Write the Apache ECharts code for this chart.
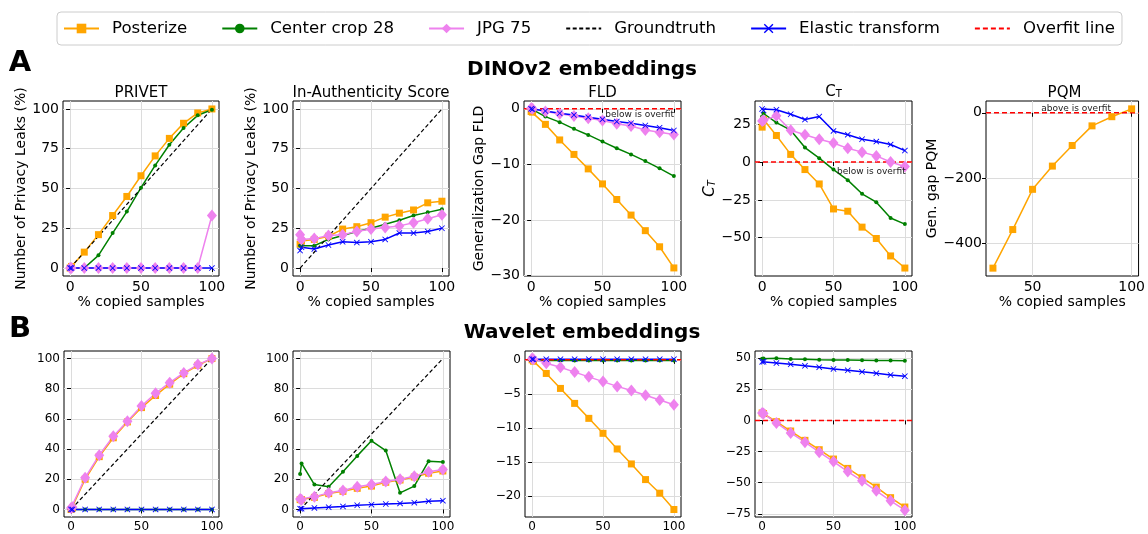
<!DOCTYPE html>
<html>
<head>
<meta charset="utf-8">
<script src="https://cdn.jsdelivr.net/npm/echarts@6.0.0/dist/echarts.min.js"></script>
<style>
  html, body { margin: 0; padding: 0; background: #fff; }
  #chart { width: 1148px; height: 534px; }
</style>
</head>
<body>
<div id="chart"></div>
<script>
// x values (% copied samples)
const copied = [0, 1, 10, 20, 30, 40, 50, 60, 70, 80, 90, 100];
const pqmCopied = [30, 40, 50, 60, 70, 80, 90, 100];
const gtX = [0, 100];
const gtY = [0, 100];

// A: DINOv2 embeddings
const privetPosterize = [0, 1, 10, 21, 33, 45, 58, 70.5, 81.5, 91, 97.5, 100];
const privetCenter = [0, 0, 0, 8, 22, 35.5, 50.5, 64.5, 77.5, 88, 96, 99.5];
const privetJpg = [0, 0, 0, 0, 0, 0, 0, 0, 0, 0, 0, 33];
const privetElastic = [0, 0, 0, 0, 0, 0, 0, 0, 0, 0, 0, 0];

const authPosterize = [15, 17, 18, 20, 24.5, 26, 28.5, 32, 34.5, 36.5, 41, 42];
const authCenter = [14, 14, 14, 18, 20.5, 23, 25, 27.5, 30, 33, 35, 37];
const authJpg = [21, 18, 18.5, 20.5, 21, 23, 24.5, 25.5, 26.5, 28.5, 31, 33.5];
const authElastic = [11, 13, 12, 14.5, 16.5, 16, 16.5, 18, 22, 22, 23, 25];

const fldPosterize = [-0.5, -0.6, -2.8, -5.6, -8.2, -10.8, -13.5, -16.3, -19.1, -21.9, -24.8, -28.6];
const fldCenter = [0, -0.1, -1.4, -2.4, -3.6, -4.7, -5.9, -7.1, -8.2, -9.4, -10.7, -12.1];
const fldJpg = [0.1, 0, -0.5, -0.9, -1.3, -1.7, -2.1, -2.7, -3.1, -3.8, -4.2, -4.6];
const fldElastic = [0, -0.1, -0.4, -0.8, -1.1, -1.5, -1.9, -2.3, -2.6, -3.0, -3.4, -3.9];

const ctPosterize = [23, 28, 17.5, 5, -5, -14.5, -31, -32.5, -43, -50.5, -62, -70];
const ctCenter = [30, 32, 26, 21, 9.5, 2.5, -5, -12, -21, -26.5, -37, -41];
const ctJpg = [27, 27.5, 30.5, 21, 18, 15, 12.5, 9, 6.5, 4, 0, -3];
const ctElastic = [35, 34, 34.5, 31.5, 28, 30, 20.5, 18, 15, 13.5, 11.5, 7.5];

const pqmPosterize = [-475, -357, -234, -163, -100, -40, -12, 12];

// B: Wavelet embeddings
const wPrivetPosterize = [0, 1, 20, 35, 47.5, 58, 67.5, 75.5, 83, 90, 95.5, 100];
const wPrivetCenter = [0, 0, 0, 0, 0, 0, 0, 0, 0, 0, 0, 0];
const wPrivetJpg = [1, 1.5, 21, 36, 48.5, 58.5, 68.5, 77, 84, 90.5, 96, 100];
const wPrivetElastic = [0, 0, 0, 0, 0, 0, 0, 0, 0, 0, 0, 0];

const wAuthPosterize = [6.5, 6.5, 8, 10.5, 12, 14, 15.5, 18, 19.5, 21.5, 24, 25.5];
const wAuthCenter = [23.5, 30.5, 16.5, 15, 25, 35.5, 45.5, 39, 11, 15.5, 32, 31.5];
const wAuthJpg = [7, 6.5, 8.5, 11, 12.5, 15, 16.5, 18.5, 20, 22, 25, 26.5];
const wAuthElastic = [0.5, 0.5, 1, 1.5, 2, 2.8, 3.2, 3.6, 4, 4.5, 5.5, 5.8];

const wFldPosterize = [0, -0.2, -2, -4.2, -6.4, -8.6, -10.8, -13.1, -15.3, -17.6, -19.6, -22];
const wFldCenter = [-0.1, -0.1, -0.1, -0.1, -0.1, -0.1, -0.1, -0.1, -0.1, -0.1, -0.1, -0.1];
const wFldJpg = [0.2, 0.1, -0.5, -1.1, -1.8, -2.5, -3.2, -3.9, -4.5, -5.2, -5.9, -6.6];
const wFldElastic = [0.1, 0.1, 0.1, 0.1, 0.1, 0.1, 0.1, 0.1, 0.1, 0.1, 0.1, 0.1];

const wCtPosterize = [6, 5.5, -1, -8.5, -16, -23.5, -31, -38.5, -46, -53.5, -62, -69.5];
const wCtCenter = [49.5, 49.6, 49.8, 49.3, 49, 48.6, 48.5, 48.4, 48.2, 48, 48, 47.8];
const wCtJpg = [6, 5.5, -2, -10, -17.5, -25.5, -33, -41, -48.5, -56.5, -64.5, -72];
const wCtElastic = [47, 47, 46, 45, 43.8, 42.7, 41.3, 40.2, 39, 37.8, 36.5, 35.5];

const FONT = 'DejaVu Sans';
const xPath = 'path://M0,1L1,0L5,4L9,0L10,1L6,5L10,9L9,10L5,6L1,10L0,9L4,5Z';
const styles = {
  'Posterize': { color: '#FFA500', symbol: 'rect', size: 7 },
  'Center crop 28': { color: '#008000', symbol: 'circle', size: 4 },
  'JPG 75': { color: '#EE82EE', symbol: 'diamond', size: [10, 12] },
  'Elastic transform': { color: '#0000FF', symbol: xPath, size: 6 }
};

const panels = [
  { box: [63, 101, 156, 175], xr: [-5, 105], xt: [0, 50, 100], yr: [-5, 105], yt: [0, 25, 50, 75, 100],
    title: 'PRIVET', yName: 'Number of Privacy Leaks (%)', yGap: 30, xName: '% copied samples',
    post: privetPosterize, center: privetCenter, jpg: privetJpg, elastic: privetElastic, gt: true },
  { box: [293, 101, 156, 175], xr: [-5, 105], xt: [0, 50, 100], yr: [-5, 105], yt: [0, 25, 50, 75, 100],
    title: 'In-Authenticity Score', yName: 'Number of Privacy Leaks (%)', yGap: 30, xName: '% copied samples',
    post: authPosterize, center: authCenter, jpg: authJpg, elastic: authElastic, gt: true },
  { box: [524, 101, 157, 175], xr: [-5, 105], xt: [0, 50, 100], yr: [-30.05, 1.4], yt: [-30, -20, -10, 0],
    title: 'FLD', yName: 'Generalization Gap FLD', yGap: 30, xName: '% copied samples',
    post: fldPosterize, center: fldCenter, jpg: fldJpg, elastic: fldElastic, overfit: true,
    note: { text: 'below is overfit', at: [76, -1.05] } },
  { box: [755, 101, 157, 175], xr: [-5, 105], xt: [0, 50, 100], yr: [-75.25, 40.25], yt: [-50, -25, 0, 25],
    title: 'CT', yName: 'CT', yGap: 30, xName: '% copied samples',
    post: ctPosterize, center: ctCenter, jpg: ctJpg, elastic: ctElastic, overfit: true,
    note: { text: 'below is overfit', at: [76.5, -6.4] } },
  { box: [986, 101, 157, 175], xr: [26.5, 103.5], xt: [50, 100], yr: [-499, 36], yt: [-400, -200, 0],
    title: 'PQM', yName: 'Gen. gap PQM', yGap: 33, xName: '% copied samples',
    post: pqmPosterize, postX: pqmCopied, overfit: true,
    note: { text: 'above is overfit', at: [72, 14] } },
  { box: [64, 351, 155, 166], xr: [-5, 105], xt: [0, 50, 100], yr: [-5, 105], yt: [0, 20, 40, 60, 80, 100], small: true,
    post: wPrivetPosterize, center: wPrivetCenter, jpg: wPrivetJpg, elastic: wPrivetElastic, gt: true },
  { box: [293, 351, 157, 166], xr: [-5, 105], xt: [0, 50, 100], yr: [-5, 105], yt: [0, 20, 40, 60, 80, 100], small: true,
    post: wAuthPosterize, center: wAuthCenter, jpg: wAuthJpg, elastic: wAuthElastic, gt: true },
  { box: [525, 351, 156, 166], xr: [-5, 105], xt: [0, 50, 100], yr: [-23.1, 1.3], yt: [-20, -15, -10, -5, 0], small: true,
    post: wFldPosterize, center: wFldCenter, jpg: wFldJpg, elastic: wFldElastic, overfit: true },
  { box: [755, 351, 157, 166], xr: [-5, 105], xt: [0, 50, 100], yr: [-77.5, 55.7], yt: [-75, -50, -25, 0, 25, 50], small: true,
    post: wCtPosterize, center: wCtCenter, jpg: wCtJpg, elastic: wCtElastic, overfit: true }
];

function pairs(xs, ys) {
  return xs.map((x, i) => [x, ys[i]]);
}
const minus = v => String(v).replace('-', '\u2212');

const grids = [], xAxes = [], yAxes = [], series = [], graphics = [];

function axis(p, i, ticks, range) {
  const fs = p.small ? 12 : 14;
  return {
    gridIndex: i, type: 'value', min: range[0], max: range[1],
    axisLine: { show: false },
    axisTick: { show: true, length: 4, customValues: ticks, lineStyle: { color: '#000', width: 1 } },
    axisLabel: { customValues: ticks, formatter: minus, fontSize: fs, fontFamily: FONT, color: '#000', margin: 4 },
    splitLine: { show: true, lineStyle: { color: '#dcdcdc', width: 1 } }
  };
}

function line(name, i, xs, ys) {
  const s = styles[name];
  return {
    name: name, type: 'line', xAxisIndex: i, yAxisIndex: i,
    data: pairs(xs, ys),
    symbol: s.symbol, symbolSize: s.size, showAllSymbol: true,
    itemStyle: { color: s.color },
    lineStyle: { color: s.color, width: 1.5 },
    animation: false
  };
}

panels.forEach((p, i) => {
  grids.push({ left: p.box[0], top: p.box[1], width: p.box[2], height: p.box[3],
    show: true, borderColor: '#000', borderWidth: 1 });
  const xa = axis(p, i, p.xt, p.xr);
  const ya = axis(p, i, p.yt, p.yr);
  if (p.xName) {
    xa.name = p.xName; xa.nameLocation = 'middle'; xa.nameGap = 19;
    xa.nameTextStyle = { fontSize: 14, fontFamily: FONT, color: '#000' };
  }
  if (p.yName) {
    ya.nameLocation = 'middle'; ya.nameGap = p.yGap;
    if (p.yName === 'CT') {
      ya.name = '{c|C}{t|T}';
      ya.nameTextStyle = { fontFamily: FONT, color: '#000',
        rich: { c: { fontSize: 15, fontStyle: 'italic', fontFamily: FONT }, t: { fontSize: 10, fontStyle: 'italic', fontFamily: FONT, verticalAlign: 'bottom' } } };
    } else {
      ya.name = p.yName;
      ya.nameTextStyle = { fontSize: 14, fontFamily: FONT, color: '#000' };
    }
  }
  xAxes.push(xa);
  yAxes.push(ya);

  if (p.post) series.push(line('Posterize', i, p.postX || copied, p.post));
  if (p.center) series.push(line('Center crop 28', i, copied, p.center));
  if (p.jpg) series.push(line('JPG 75', i, copied, p.jpg));
  if (p.gt) series.push({
    name: 'Groundtruth', type: 'line', xAxisIndex: i, yAxisIndex: i,
    data: pairs(gtX, gtY), symbol: 'none',
    itemStyle: { color: '#000' },
    lineStyle: { color: '#000', width: 1.2, type: [4, 2.5] }, animation: false
  });
  if (p.elastic) series.push(line('Elastic transform', i, copied, p.elastic));
  if (p.overfit) {
    const o = {
      name: 'Overfit line', type: 'line', xAxisIndex: i, yAxisIndex: i,
      data: pairs(p.xr, [0, 0]), symbol: 'none',
      itemStyle: { color: '#FF0000' },
      lineStyle: { color: '#FF0000', width: 1.5, type: [5, 3] }, animation: false
    };
    if (p.note) {
      o.markPoint = {
        symbol: 'circle', symbolSize: 1, itemStyle: { color: 'rgba(0,0,0,0)' }, animation: false,
        label: { show: true, position: 'inside', color: '#222', fontSize: 9, fontFamily: FONT },
        data: [{ coord: p.note.at, value: p.note.text, label: { formatter: p.note.text } }]
      };
    }
    series.push(o);
  }

  if (p.title) {
    const cx = p.box[0] + p.box[2] / 2;
    if (p.title === 'CT') {
      graphics.push({ type: 'text', x: cx, y: p.box[1] - 9,
        style: { text: '{c|C}{t|T}', textAlign: 'center', textVerticalAlign: 'middle', fill: '#000',
          rich: { c: { fontSize: 15, fontFamily: FONT }, t: { fontSize: 10, fontFamily: FONT, verticalAlign: 'bottom' } } } });
    } else {
      graphics.push({ type: 'text', x: cx, y: p.box[1] - 8,
        style: { text: p.title, textAlign: 'center', textVerticalAlign: 'middle', fontSize: 15, fontFamily: FONT, fill: '#000' } });
    }
  }
});

graphics.push(
  { type: 'text', x: 20, y: 63, style: { text: 'A', textAlign: 'center', textVerticalAlign: 'middle', fontSize: 29, fontWeight: 'bold', fontFamily: FONT, fill: '#000' } },
  { type: 'text', x: 582, y: 70, style: { text: 'DINOv2 embeddings', textAlign: 'center', textVerticalAlign: 'middle', fontSize: 20, fontWeight: 'bold', fontFamily: FONT, fill: '#000' } },
  { type: 'text', x: 20, y: 329, style: { text: 'B', textAlign: 'center', textVerticalAlign: 'middle', fontSize: 29, fontWeight: 'bold', fontFamily: FONT, fill: '#000' } },
  { type: 'text', x: 582, y: 333, style: { text: 'Wavelet embeddings', textAlign: 'center', textVerticalAlign: 'middle', fontSize: 20, fontWeight: 'bold', fontFamily: FONT, fill: '#000' } }
);

const chart = echarts.init(document.getElementById('chart'), null, { renderer: 'canvas' });
chart.setOption({
  backgroundColor: '#fff',
  animation: false,
  textStyle: { fontFamily: FONT },
  legend: {
    data: [
      'Posterize', 'Center crop 28', 'JPG 75',
      { name: 'Groundtruth', itemStyle: { opacity: 0 } },
      'Elastic transform',
      { name: 'Overfit line', itemStyle: { opacity: 0 } }
    ],
    left: 57, top: 12,
    padding: [8, 7, 8, 6],
    itemWidth: 35, itemHeight: 12, itemGap: 34,
    textStyle: { fontSize: 16.6, fontFamily: FONT, color: '#000', padding: [0, 0, 0, 8] },
    borderColor: '#cccccc', borderWidth: 1, borderRadius: 4,
    backgroundColor: '#fff'
  },
  grid: grids,
  xAxis: xAxes,
  yAxis: yAxes,
  series: series,
  graphic: graphics
});
</script>
</body>
</html>
